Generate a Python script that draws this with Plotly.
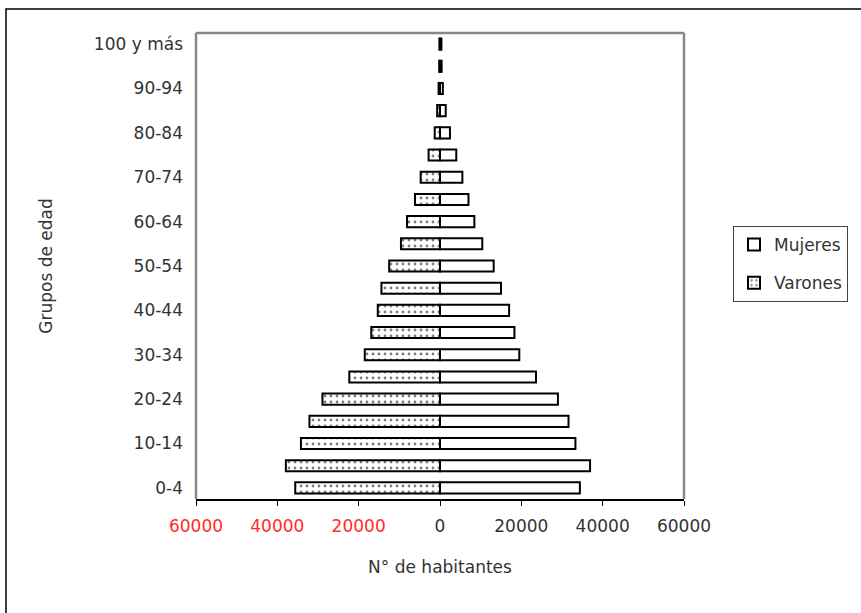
import plotly.graph_objects as go

grupos = ["0-4", "5-9", "10-14", "15-19", "20-24", "25-29", "30-34", "35-39",
          "40-44", "45-49", "50-54", "55-59", "60-64", "65-69", "70-74", "75-79",
          "80-84", "85-89", "90-94", "95-99", "100 y más"]
varones = [35600, 37900, 34200, 32100, 28900, 22300, 18500, 16900, 15300, 14400,
           12500, 9600, 8100, 6150, 4750, 2800, 1300, 700, 350, 200, 150]
mujeres = [34400, 36900, 33300, 31600, 29000, 23600, 19500, 18300, 17000, 15000,
           13200, 10400, 8450, 7000, 5500, 4000, 2450, 1400, 700, 400, 350]
x_ticks = [-60000, -40000, -20000, 0, 20000, 40000, 60000]

FONT = "DejaVu Sans, Liberation Sans, Arial, sans-serif"
FS = 17
FC = "#333"
pos = list(range(len(grupos)))

fig = go.Figure()
fig.add_trace(go.Bar(
    y=pos, x=mujeres, orientation="h", name="Mujeres", width=0.5,
    legendgroup="m",
    marker=dict(color="white", line=dict(color="black", width=2)),
))
fig.add_trace(go.Bar(
    y=pos, x=[-v for v in varones], orientation="h", name="Varones", width=0.5,
    legendgroup="v",
    marker=dict(color="white", line=dict(color="black", width=2),
                pattern=dict(shape=".", size=6, solidity=0.18,
                             fgcolor="black", bgcolor="white")),
))

ticktext = []
for v in x_ticks:
    if v < 0:
        ticktext.append('<span style="color:#ff2a2a">%d</span>' % abs(v))
    else:
        ticktext.append(str(v))

W, H = 861, 613
L, R, T, B = 196, 684, 33, 499
pw, ph = R - L, B - T

def px(x):
    return (x - L) / pw

def py(y):
    return (B - y) / ph

fig.update_layout(
    width=W, height=H,
    margin=dict(l=L, r=W - R, t=T, b=H - B),
    paper_bgcolor="white", plot_bgcolor="white",
    barmode="overlay",
    font=dict(family=FONT, size=FS, color=FC),
    showlegend=True,
    legend=dict(x=px(733), y=py(226), xanchor="left", yanchor="top",
                bordercolor="#444", borderwidth=1, bgcolor="white",
                font=dict(family=FONT, size=FS, color=FC),
                itemwidth=30, tracegroupgap=13, traceorder="grouped"),
    xaxis=dict(range=[-60000, 60000], tickvals=x_ticks, ticktext=ticktext,
               showgrid=False, zeroline=False, showline=True, linecolor="black",
               linewidth=1.5, ticks="outside", ticklen=5, tickcolor="black",
               tickwidth=1, ticklabelstandoff=6,
               title=dict(text="N° de habitantes", standoff=26,
                          font=dict(family=FONT, size=FS, color=FC))),
    yaxis=dict(range=[-0.5, len(grupos) - 0.5], tickvals=pos[::2],
               ticktext=grupos[::2], showgrid=False, zeroline=False,
               showline=False, ticks="", ticklabelstandoff=12,
               title=dict(text="Grupos de edad", standoff=36,
                          font=dict(family=FONT, size=FS, color=FC))),
    yaxis2=dict(overlaying="y", anchor="free", position=0.5,
                range=[-0.5, len(grupos) - 0.5],
                tickvals=[i - 0.5 for i in range(len(grupos) + 1)],
                showticklabels=False, ticks="outside", ticklen=7, tickwidth=2,
                tickcolor="black", showline=True, linecolor="black",
                linewidth=2, showgrid=False, zeroline=False),
    shapes=[
        dict(type="line", xref="paper", yref="paper", x0=0, x1=1, y0=1, y1=1,
             line=dict(color="#888", width=2.5), layer="below"),
        dict(type="line", xref="paper", yref="paper", x0=0, x1=0, y0=0, y1=1,
             line=dict(color="#888", width=2.5), layer="below"),
        dict(type="line", xref="paper", yref="paper", x0=1, x1=1, y0=0, y1=1,
             line=dict(color="#888", width=2.5), layer="below"),
        dict(type="rect", xref="paper", yref="paper",
             x0=px(6), x1=px(960), y0=py(720), y1=py(9),
             line=dict(color="black", width=1.5), layer="below"),
    ],
)

fig.write_html("out.html")
